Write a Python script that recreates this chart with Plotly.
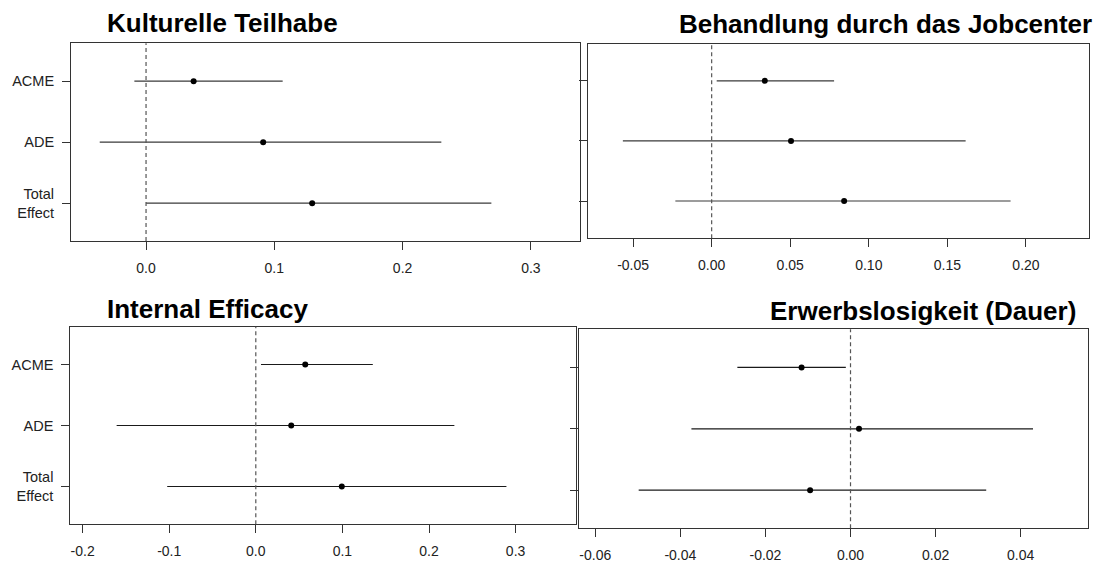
import plotly.graph_objects as go

categories = ["ACME", "ADE", "Total Effect"]
cat_labels = ["ACME", "ADE", "Total<br>Effect"]

titles = ["Kulturelle Teilhabe", "Behandlung durch das Jobcenter",
          "Internal Efficacy", "Erwerbslosigkeit (Dauer)"]

kultur_est = [0.0371, 0.0913, 0.1295]
kultur_lo = [-0.0091, -0.0361, 0.0000]
kultur_hi = [0.1065, 0.2302, 0.2692]

job_est = [0.0338, 0.0505, 0.0843]
job_lo = [0.0032, -0.0565, -0.0231]
job_hi = [0.0779, 0.1616, 0.1902]

eff_est = [0.0571, 0.0409, 0.0993]
eff_lo = [0.0060, -0.1607, -0.1023]
eff_hi = [0.1351, 0.2293, 0.2894]

erw_est = [-0.0115, 0.0020, -0.0095]
erw_lo = [-0.0266, -0.0374, -0.0498]
erw_hi = [-0.0011, 0.0429, 0.0319]

tick_vals = [
    [0.0, 0.1, 0.2, 0.3],
    [-0.05, 0.0, 0.05, 0.10, 0.15, 0.20],
    [-0.2, -0.1, 0.0, 0.1, 0.2, 0.3],
    [-0.06, -0.04, -0.02, 0.0, 0.02, 0.04],
]
tick_text = [
    ["0.0", "0.1", "0.2", "0.3"],
    ["-0.05", "0.00", "0.05", "0.10", "0.15", "0.20"],
    ["-0.2", "-0.1", "0.0", "0.1", "0.2", "0.3"],
    ["-0.06", "-0.04", "-0.02", "0.00", "0.02", "0.04"],
]

series = [(kultur_est, kultur_lo, kultur_hi), (job_est, job_lo, job_hi),
          (eff_est, eff_lo, eff_hi), (erw_est, erw_lo, erw_hi)]

# layout (pixel-derived)
W, H = 1096, 563
boxes = [  # left, right, top, bottom in px
    (71, 580, 43.3, 241),
    (587.5, 1089, 43.5, 238.3),
    (70.3, 575.7, 326.7, 524.3),
    (578.7, 1087.7, 329.3, 528.3),
]
xranges = [(-0.0585, 0.3383), (-0.0790, 0.2401), (-0.2142, 0.3694), (-0.0639, 0.05576)]
show_ylabels = [True, False, True, False]
line_colors = ["#3a3a3a", "#3a3a3a", "#1a1a1a", "#1a1a1a"]

fig = go.Figure()
font_family = "Liberation Sans, Arial, sans-serif"

for i, (est, lo, hi) in enumerate(series):
    n = i + 1
    xa = "x" if n == 1 else f"x{n}"
    ya = "y" if n == 1 else f"y{n}"
    fig.add_trace(go.Scatter(
        x=est, y=categories, mode="markers", xaxis=xa, yaxis=ya,
        marker=dict(color="black", size=6),
        error_x=dict(type="data", symmetric=False,
                     array=[h - e for h, e in zip(hi, est)],
                     arrayminus=[e - l for e, l in zip(est, lo)],
                     width=0, thickness=1.2, color=line_colors[i]),
        showlegend=False, hoverinfo="x+y",
    ))
    l, r, t, b = boxes[i]
    axis_common = dict(showline=True, mirror=True, linecolor="#333", linewidth=1,
                       ticks="outside", ticklen=8, tickcolor="#333", tickwidth=1,
                       showgrid=False, zeroline=False)
    fig.layout[f"xaxis{'' if n == 1 else n}"] = dict(
        domain=[l / W, r / W], anchor=ya, range=list(xranges[i]),
        tickmode="array", tickvals=tick_vals[i], ticktext=tick_text[i],
        ticklabelstandoff=6,
        tickfont=dict(family=font_family, size=14, color="#222"), **axis_common)
    fig.layout[f"yaxis{'' if n == 1 else n}"] = dict(
        domain=[1 - b / H, 1 - t / H], anchor=xa, type="category",
        categoryorder="array", categoryarray=categories[::-1],
        range=[-0.62, 2.62], tickmode="array", tickvals=categories,
        ticktext=cat_labels if show_ylabels[i] else ["", "", ""],
        ticklabelstandoff=5,
        tickfont=dict(family=font_family, size=14.5, color="#222"), **axis_common)
    fig.add_shape(type="line", xref=xa, yref=f"{ya} domain", x0=0, x1=0, y0=0, y1=1,
                  line=dict(color="#555", width=1.2, dash="4px,3px"))

title_pos = [  # x px, anchor, y center px
    (105.4, "left", 23),
    (1093.5, "right", 24),
    (105.4, "left", 308.5),
    (1077.5, "right", 310.5),
]
for i, txt in enumerate(titles):
    x, anc, y = title_pos[i]
    fig.add_annotation(text=f"<b>{txt}</b>", xref="paper", yref="paper",
                       x=x / W, y=1 - y / H, xanchor=anc, yanchor="middle",
                       showarrow=False,
                       font=dict(family=font_family, size=26, color="black"))

fig.update_layout(width=W, height=H, margin=dict(l=0, r=0, t=0, b=0),
                  paper_bgcolor="white", plot_bgcolor="white")

fig.write_html("out.html")
